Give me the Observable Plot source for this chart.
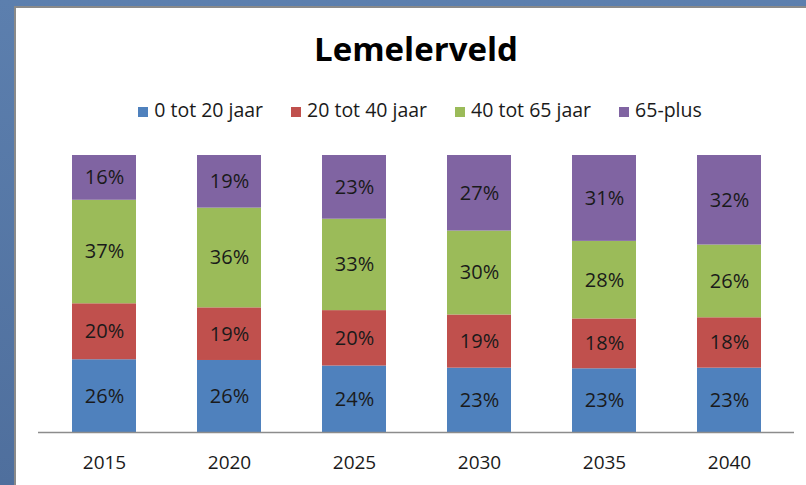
<!DOCTYPE html>
<html>
<head>
<meta charset="utf-8">
<script src="https://cdn.jsdelivr.net/npm/d3@7"></script>
<script src="https://cdn.jsdelivr.net/npm/@observablehq/plot@0.6"></script>
<style>
  html, body { margin: 0; padding: 0; }
  body {
    width: 806px; height: 485px; overflow: hidden; position: relative;
    background: linear-gradient(180deg, #5c7fae 0%, #4f6f9d 100%);
    font-family: "Open Sans", sans-serif;
  }
  #panel {
    position: absolute; left: 14px; top: 6px; width: 792px; height: 479px;
    border-left: 2px solid #8a8a8a; border-top: 2px solid #8a8a8a;
    background: #ffffff; box-sizing: border-box;
  }
  #title {
    position: absolute; left: 0; top: 32px; width: 806px; text-align: center;
    font-size: 33px; line-height: 33px; font-weight: 700; color: #000;
    padding-left: 26px; box-sizing: border-box;
  }
  #legend {
    position: absolute; left: 0; top: 100px; width: 806px;
    display: flex; justify-content: center; gap: 28px;
    font-size: 19.5px; line-height: 19px; color: #1a1a1a;
    padding-left: 34px; box-sizing: border-box;
  }
  #legend .item { white-space: nowrap; }
  #legend .sw { display: inline-block; width: 10px; height: 10px; margin-right: 6px; vertical-align: baseline; }
  #chart { position: absolute; left: 16px; top: 140px; }
</style>
</head>
<body>
<div id="panel"></div>
<div id="title">Lemelerveld</div>
<div id="legend"></div>
<div id="chart"></div>
<script>
const years = ["2015", "2020", "2025", "2030", "2035", "2040"];
const groups = ["0 tot 20 jaar", "20 tot 40 jaar", "40 tot 65 jaar", "65-plus"];
const colors = ["#4f81bd", "#c0504d", "#9bbb59", "#8064a2"];
const age0to20 = [26, 26, 24, 23, 23, 23];
const age20to40 = [20, 19, 20, 19, 18, 18];
const age40to65 = [37, 36, 33, 30, 28, 26];
const age65plus = [16, 19, 23, 27, 31, 32];

const series = [age0to20, age20to40, age40to65, age65plus];
const data = [];
groups.forEach((g, gi) => {
  years.forEach((y, yi) => {
    data.push({year: y, group: g, value: series[gi][yi]});
  });
});

const legend = document.getElementById("legend");
groups.forEach((g, i) => {
  const item = document.createElement("span");
  item.className = "item";
  const sw = document.createElement("span");
  sw.className = "sw";
  sw.style.background = colors[i];
  item.appendChild(sw);
  item.appendChild(document.createTextNode(g));
  legend.appendChild(item);
});

const chart = Plot.plot({
  width: 790,
  height: 345,
  marginLeft: 22,
  marginRight: 12,
  marginTop: 15,
  marginBottom: 53,
  style: {fontFamily: "Open Sans, sans-serif", fontSize: "19px", color: "#1a1a1a", background: "transparent"},
  x: {domain: years, paddingInner: 0.49, paddingOuter: 0.25, label: null, tickSize: 0, tickPadding: 23},
  y: {axis: null, domain: [0, 1]},
  color: {domain: groups, range: colors},
  marks: [
    Plot.barY(data, Plot.stackY({offset: "normalize", order: groups}, {x: "year", y: "value", z: "group", fill: "group"})),
    Plot.text(data, Plot.stackY({offset: "normalize", order: groups}, {x: "year", y: "value", z: "group", text: d => d.value + "%", fill: "#1a1a1a", fontSize: 20})),
    Plot.ruleY([0], {stroke: "#8c8c8c", strokeWidth: 1.5})
  ]
});
document.getElementById("chart").appendChild(chart);
</script>
</body>
</html>
